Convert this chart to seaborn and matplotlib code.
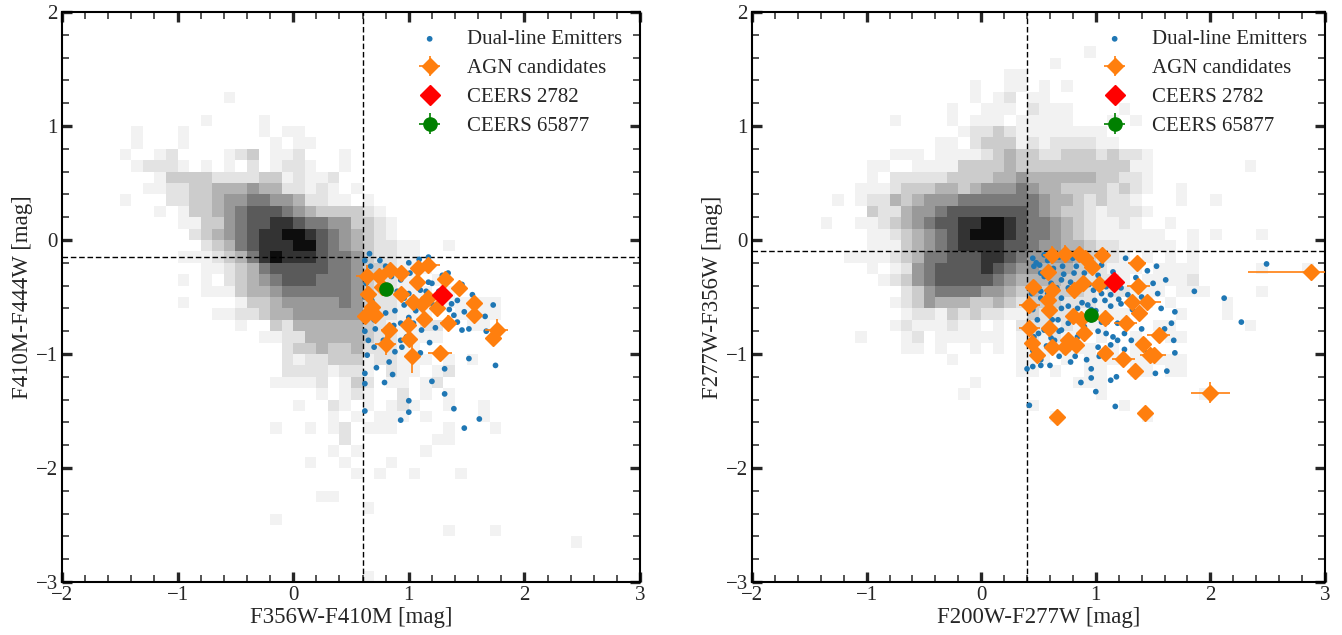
import numpy as np
import pandas as pd
import matplotlib
matplotlib.use("Agg")
import matplotlib.pyplot as plt
from matplotlib.colors import ListedColormap
from matplotlib.ticker import MultipleLocator
import seaborn as sns

# ---------------------------------------------------------------------------
# Background field population: 0.1 mag cells, grey level 1 (faint) .. 9 (dense).
# Rows run from y = 2.0 (top) down to y = -3.0; columns from x = -2.0 to 3.0.
# ---------------------------------------------------------------------------
grey_levels = ["#f2f2f2", "#e3e3e3", "#cccccc", "#b3b3b3", "#999999",
               "#7a7a7a", "#5a5a5a", "#333333", "#0d0d0d"]

density_left = [
    ".......... .......... .......... .......... ..........",  # 2.0
    ".......... .......... .......... .......... ..........",
    ".......... .......... .......... .......... ..........",
    ".......... .......... .......... .......... ..........",
    ".......... .......... .......... .......... ..........",
    ".......... .......... .......... .......... ..........",  # 1.5
    ".......... .......... .......... .......... ..........",
    ".......... ....1..... .......... .......... ..........",
    ".......... .......... .......... .......... ..........",
    ".......... ..1....1.. .......... .......... ..........",
    "......1... 1......1.1 1......... .......... ..........",  # 1.0
    "......1... 1.......1. 11........ .......... ..........",
    ".....1..12 ....123.11 2...1..... .......... ..........",
    "......1222 1.1.1.2.12 21..1..... .......... ..........",
    "........13 3332222331 2112...... .......... ..........",
    ".......112 2334445442 2121.1.... .......... ..........",  # 0.5
    ".....1...2 2334556655 42211.1... .......... ..........",
    "........1. 1334567776 54333321.. .......... ..........",
    ".......... 1133567788 766553321. .......... ..........",
    ".......... .234567889 987654321. .......... ..........",
    ".......... ..23467888 9976543221 1..1...... ..........",  # 0.0
    ".......... 1112346898 8876653221 1......... ..........",
    ".......... ..11234677 7776653321 11........ ..........",
    ".......... 1.1.234567 7766653221 1.1....... ..........",
    ".......... ..11134456 6666653221 11.1...... ..........",
    ".......... 1....13345 5555653221 1..11111.. ..........",  # -0.5
    ".......... ...1122344 5555553221 11..1111.. ..........",
    ".......... .....1..32 4444443211 122..11... ..........",
    ".......... .......112 2444443221 111....... ..........",
    ".......... .........2 3343342221 1......... ..........",
    ".......... .........2 1223331221 11.1.1.... ..........",  # -1.0
    ".......... .........2 2221221.21 1.12...... ..........",
    ".......... ........11 112.132.11 .12....... ..........",
    ".......... .......... ..1.121..2 .1.1...... ..........",
    ".......... .......... 1..21.1.12 1..1..1... ..........",
    ".......... .......... ...1.1.111 .1....1... ..........",  # -1.5
    ".......... ........1. .1.12.111. ...1...1.. ..........",
    ".......... .......... ....2..... ..11...... ..........",
    ".......... .......... ...1.1.... .1........ ..........",
    ".......... .......... .1..1...1. .......... ..........",
    ".......... .......... .....1.1.. 1...1..... ..........",  # -2.0
    ".......... .......... .......... .......... ..........",
    ".......... .......... ..11...... .......... ..........",
    ".......... .......... ......1... .......... ..........",
    ".......... ........1. .......... .......... ..........",
    ".......... .......... .......... ...1...1.. ..........",  # -2.5
    ".......... .......... .......... .......... ....1.....",
    ".......... .......... .......... .......... ..........",
    ".......... .......... .......... .......... ..........",
    ".......... .......... ......1... .......... ..........",
]

density_right = [
    ".......... .......... .......... .......... ..........",  # 2.0
    ".......... .......... .......... .......... ..........",
    ".......... .......... .......... .......... ..........",
    ".......... .......... .........1 .......... ..........",
    ".......... .......... ......1... .......... ..........",
    ".......... .......... ..11...... .......... ..........",  # 1.5
    ".......... .........1 ..11.1.1.. .......... ..........",
    ".......... .........1 .12.11.... .......... ..........",
    ".......... .......1.. 111.2111.. ..1....... ..........",
    ".......... ..1....1.1 11.11111.. .1.1...... ..........",
    ".......... ........12 2321111111 1......... ..........",  # 1.0
    ".......... ......11.2 3331212222 11........ ..........",
    ".......... ..111.1111 2343322333 23221..... ..........",
    ".......... 11..111133 3343333333 33311..... ...1......",
    ".......... 1.22222333 3445444444 33221..... ..........",
    ".........1 1123334434 5556544333 32321..1.. ..........",  # 0.5
    ".......1.1 2243455566 6666654432 3221...1.. 1.........",
    ".......... 3224556777 7777654332 12221..... ..........",
    "......1..1 1234567788 9987665432 1121..1... ..........",
    ".......... 1123456789 9987665432 111111..1. 1...1.....",
    ".......... 1113456788 8877655443 2211111.1. ..........",  # 0.0
    "........11 1123466777 8876555543 221.1.1.1. ..........",
    ".......... 1.12567777 8765544433 2111.1111. ....1...1.",
    ".......... .123567777 7654444332 221.11112. ..........",
    ".......... ...2356666 5543433332 122111.111 ....1.....",
    ".......... ..12354443 3432333222 11.11.1... .1........",  # -0.5
    ".......... ...1221323 2211322211 111....1.. .1........",
    ".......... ..12111211 .1.2221211 1....11... ...1......",
    ".........1 ...12.1111 11.121211. 1..1..11.. ..........",
    ".......... ...11.1..1 .1.1111111 .1.1...... ..........",
    ".......... .......1.. ...111.1.1 11.11111.. ..........",  # -1.0
    ".......... .......... ...11.1..1 1..11.11.. ..........",
    ".......... .........1 ........11 1......... ..........",
    ".......... ........1. .......... 1........1 ..........",
    ".......... .......... ....1..... ..1....... ..........",
    ".......... .......... ......1... ....1..... ..........",  # -1.5
    ".......... .......... .......... .......... ..........",
    ".......... .......... .......... .......... ..........",
    ".......... .......... .......... .......... ..........",
    ".......... .......... .......... .......... ..........",
    ".......... .......... .......... .......... ..........",  # -2.0
    ".......... .......... .......... .......... ..........",
    ".......... .......... .......... .......... ..........",
    ".......... .......... .......... .......... ..........",
    ".......... .......... .......... .......... ..........",
    ".......... .......... .......... .......... ..........",  # -2.5
    ".......... .......... .......... .......... ..........",
    ".......... .......... .......... .......... ..........",
    ".......... .......... .......... .......... ..........",
    ".......... .......... .......... .......... ..........",
]

# ---------------------------------------------------------------------------
# Dual-line emitters
# ---------------------------------------------------------------------------
dle_left_x = [0.62, 0.67, 0.80, 1.00, 1.09, 1.17, 1.01, 0.85, 0.93, 1.04, 1.17, 1.20,
              1.29, 1.34, 1.42, 1.46, 1.21, 1.10, 0.96, 0.96, 0.88, 0.80, 0.72, 0.71,
              0.65, 0.70, 0.64, 0.83, 0.88, 0.94, 1.10, 1.23, 1.42, 1.46, 1.39, 1.37,
              1.48, 1.66, 1.73, 1.67, 1.75, 1.52, 1.31, 1.20, 1.00, 0.93, 1.00, 0.79,
              0.62, 0.62, 0.62, 1.31, 1.39, 1.48, 1.61, 1.52, 0.70, 0.77, 0.83, 0.68,
              0.74, 0.63, 0.62, 0.70, 1.00, 1.10, 1.15, 1.25, 1.35, 1.00, 1.11, 0.93,
              0.87, 1.11, 0.98, 0.78, 0.93, 1.04, 1.17, 0.62, 0.63, 0.66, 0.75, 0.90,
              1.06, 1.26, 1.55, 0.72, 0.86, 1.18]
dle_left_y = [-0.18, -0.23, -0.23, -0.20, -0.17, -0.15, -0.29, -0.32, -0.35, -0.37, -0.37, -0.38,
              -0.31, -0.29, -0.53, -0.39, -0.57, -0.58, -0.51, -0.57, -0.62, -0.64, -0.63, -0.78,
              -0.88, -0.94, -1.01, -1.07, -0.98, -0.94, -0.99, -0.77, -0.72, -0.79, -0.66, -0.56,
              -0.63, -0.67, -0.57, -0.80, -1.10, -1.04, -1.13, -1.24, -1.41, -1.58, -1.51, -1.25,
              -1.26, -1.17, -1.50, -1.35, -1.48, -1.65, -1.57, -0.78, -0.70, -0.45, -0.41, -0.53,
              -0.29, -0.38, -0.50, -0.58, -0.47, -0.44, -0.45, -0.58, -0.61, -0.68, -0.70, -0.73,
              -0.75, -0.79, -0.85, -0.88, -0.88, -0.73, -0.70, -0.80, -0.65, -0.12, -0.18, -0.45,
              -0.62, -0.45, -0.48, -1.12, -1.18, -0.90]

dle_right_x = [0.45, 0.46, 0.51, 0.58, 0.68, 0.80, 0.90, 1.05, 1.26, 1.45, 1.53, 1.61,
               1.86, 1.69, 1.66, 1.68, 1.69, 1.62, 1.52, 1.34, 1.18, 1.13, 1.25, 1.19,
               1.31, 1.42, 1.45, 1.09, 1.13, 1.02, 1.03, 0.96, 0.96, 0.87, 1.00, 0.78,
               0.73, 0.64, 0.68, 0.52, 0.45, 0.40, 0.42, 1.17, 1.20, 1.13, 1.08, 0.99,
               0.84, 0.76, 0.90, 0.81, 0.70, 0.61, 0.52, 0.46, 0.44, 0.52, 0.61, 0.70,
               0.76, 0.84, 0.93, 0.87, 0.76, 0.67, 0.58, 0.49, 0.55, 0.70, 0.84, 0.96,
               1.05, 1.10, 1.08, 0.90, 0.64, 0.76, 0.46, 0.41, 0.45, 0.83, 0.71, 1.02,
               0.94, 1.09, 1.13, 1.19, 1.29, 1.40, 1.50, 1.32, 1.22, 0.55, 0.58, 0.78,
               0.96, 1.02, 0.84, 0.90, 0.61, 2.49, 1.54, 2.12, 2.27,
               0.48, 0.55, 0.63, 0.72, 0.78, 0.66, 0.52, 0.70, 0.62, 0.50, 0.57, 0.68,
               0.82, 0.92, 1.00, 1.05, 0.98, 0.88, 1.15, 1.22, 1.28, 1.35, 1.40, 1.57,
               1.60, 1.25, 1.15, 0.45, 0.52, 0.60]
dle_right_y = [-0.16, -0.23, -0.22, -0.18, -0.15, -0.16, -0.13, -0.22, -0.16, -0.27, -0.23, -0.35,
               -0.45, -0.63, -0.73, -0.88, -0.99, -1.15, -1.17, -1.14, -1.20, -1.23, -0.96, -0.88,
               -0.88, -0.88, -0.99, -0.82, -0.92, -0.94, -1.02, -1.13, -1.21, -1.25, -1.33, -1.07,
               -0.98, -0.88, -0.80, -1.10, -1.11, -1.13, -1.45, -1.46, -0.52, -0.58, -0.53, -0.53,
               -0.45, -0.42, -0.29, -0.29, -0.35, -0.38, -0.29, -0.38, -0.47, -0.51, -0.54, -0.51,
               -0.58, -0.60, -0.57, -0.70, -0.73, -0.70, -0.64, -0.70, -0.79, -0.79, -0.85, -0.70,
               -0.72, -0.72, -0.66, -0.76, -0.96, -0.96, -0.85, -0.76, -0.61, -0.23, -0.23, -0.31,
               -0.39, -0.41, -0.48, -0.73, -0.72, -0.50, -0.38, -0.61, -0.56, -0.32, -0.47, -0.66,
               -0.61, -0.80, -0.91, -0.85, -0.86, -0.21, -0.47, -0.51, -0.72,
               -0.20, -0.13, -0.25, -0.30, -0.37, -0.42, -0.45, -0.60, -0.70, -0.82, -0.93, -1.02,
               -1.02, -1.05, -0.62, -0.47, -0.44, -0.55, -0.28, -0.42, -0.48, -0.33, -0.78, -0.60,
               -0.78, -0.82, -0.85, -0.97, -1.05, -1.10]

# ---------------------------------------------------------------------------
# AGN candidates with their colour uncertainties
# ---------------------------------------------------------------------------
agn_left_x = [1.08, 1.17, 1.31, 1.43, 1.56, 1.56, 1.76, 1.73, 1.34, 1.27, 1.03, 1.00, 0.99,
              0.83, 0.80, 1.13, 1.24, 1.11, 1.07, 1.04, 0.93, 0.84, 0.74, 0.64, 0.65, 0.68,
              0.62, 0.93, 1.17, 0.77, 0.71]
agn_left_y = [-0.25, -0.22, -0.34, -0.42, -0.55, -0.66, -0.79, -0.86, -0.73, -0.99, -1.02, -0.87,
              -0.75, -0.79, -0.91, -0.69, -0.60, -0.56, -0.37, -0.54, -0.29, -0.26, -0.32, -0.32,
              -0.47, -0.59, -0.67, -0.47, -0.51, -0.41, -0.66]
agn_left_xerr = [0.04, 0.10, 0.03, 0.04, 0.03, 0.03, 0.10, 0.04, 0.07, 0.10, 0.05, 0.04, 0.05,
                 0.07, 0.09, 0.05, 0.06, 0.04, 0.05, 0.05, 0.04, 0.05, 0.06, 0.10, 0.06, 0.05,
                 0.04, 0.05, 0.04, 0.05, 0.06]
agn_left_yerr = [0.05, 0.04, 0.03, 0.03, 0.03, 0.03, 0.10, 0.07, 0.07, 0.06, 0.15, 0.06, 0.06,
                 0.05, 0.10, 0.05, 0.04, 0.05, 0.04, 0.05, 0.05, 0.05, 0.06, 0.10, 0.06, 0.06,
                 0.05, 0.05, 0.05, 0.04, 0.06]

agn_right_x = [0.62, 0.73, 0.85, 0.91, 1.05, 0.97, 1.36, 0.58, 0.45, 0.62, 0.81, 0.89, 1.03,
               1.37, 1.32, 1.45, 1.38, 0.42, 0.59, 0.80, 0.87, 1.08, 1.26, 0.90, 0.42, 0.59,
               1.55, 1.41, 0.44, 0.49, 0.62, 0.73, 0.83, 0.76, 1.08, 1.24, 1.47, 1.51, 1.34,
               0.66, 1.43, 0.58, 2.88, 2.00]
agn_right_y = [-0.13, -0.12, -0.12, -0.16, -0.13, -0.24, -0.20, -0.28, -0.41, -0.44, -0.44, -0.38,
               -0.39, -0.40, -0.54, -0.54, -0.64, -0.57, -0.61, -0.67, -0.69, -0.68, -0.73, -0.82,
               -0.77, -0.77, -0.83, -0.91, -0.90, -1.01, -0.94, -0.94, -0.92, -0.88, -0.99, -1.04,
               -1.01, -1.01, -1.15, -1.55, -1.52, -0.53, -0.28, -1.34]
agn_right_xerr = [0.08, 0.05, 0.05, 0.05, 0.05, 0.05, 0.08, 0.05, 0.05, 0.05, 0.05, 0.05, 0.05,
                  0.10, 0.05, 0.12, 0.05, 0.09, 0.05, 0.05, 0.05, 0.05, 0.10, 0.05, 0.09, 0.05,
                  0.10, 0.05, 0.05, 0.05, 0.05, 0.05, 0.05, 0.05, 0.05, 0.10, 0.08, 0.10, 0.05,
                  0.05, 0.05, 0.05, 0.55, 0.17]
agn_right_yerr = [0.08, 0.08, 0.05, 0.05, 0.05, 0.05, 0.05, 0.05, 0.05, 0.05, 0.05, 0.05, 0.05,
                  0.05, 0.05, 0.05, 0.05, 0.08, 0.05, 0.05, 0.05, 0.05, 0.05, 0.05, 0.05, 0.05,
                  0.05, 0.05, 0.05, 0.05, 0.05, 0.05, 0.05, 0.05, 0.05, 0.05, 0.05, 0.05, 0.05,
                  0.05, 0.05, 0.05, 0.05, 0.09]

# Individual sources: (x, y) in each colour plane
ceers2782_left = (1.29, -0.48)
ceers2782_right = (1.16, -0.37)
ceers65877_left = (0.80, -0.43)
ceers65877_right = (0.96, -0.66)
ceers65877_err = (0.03, 0.03)

# Selection thresholds
cut_left = (0.6, -0.15)
cut_right = (0.4, -0.1)

axis_labels_left = ("F356W-F410M [mag]", "F410M-F444W [mag]")
axis_labels_right = ("F200W-F277W [mag]", "F277W-F356W [mag]")
legend_labels = ["Dual-line Emitters", "AGN candidates", "CEERS 2782", "CEERS 65877"]

ORANGE = "#ff7f0e"
BLUE = "#1f77b4"

sns.set_style("ticks")
plt.rcParams["font.family"] = ["Liberation Serif", "DejaVu Serif"]
plt.rcParams["axes.unicode_minus"] = True


def grid_to_frame(rows):
    recs = []
    for r, row in enumerate(rows):
        row = row.replace(" ", "")
        yc = 2.0 - 0.1 * r - 0.05
        for c, ch in enumerate(row):
            if ch != ".":
                recs.append((-2.0 + 0.1 * c + 0.05, yc, int(ch)))
    return pd.DataFrame(recs, columns=["x", "y", "level"])


def draw_panel(ax, rows, dle_x, dle_y, ax_x, ax_y, axe, aye, c2782, c65877, cut, labels):
    dens = grid_to_frame(rows)
    sns.histplot(data=dens, x="x", y="y", weights="level", binwidth=0.1,
                 binrange=((-2, 3), (-3, 2)), cmap=ListedColormap(grey_levels),
                 vmin=0.5, vmax=9.5, ax=ax, zorder=0)

    ax.axvline(cut[0], color="black", lw=1.0, ls=(0, (4, 2)), zorder=1)
    ax.axhline(cut[1], color="black", lw=1.0, ls=(0, (4, 2)), zorder=1)

    dle = pd.DataFrame({"x": dle_x, "y": dle_y})
    sns.scatterplot(data=dle, x="x", y="y", s=17, color=BLUE, edgecolor="none",
                    ax=ax, zorder=3, label=legend_labels[0], legend=False)
    dots = ax.collections[-1]

    agn = ax.errorbar(ax_x, ax_y, xerr=axe, yerr=aye, fmt="D", color=ORANGE, ms=8,
                      mec=ORANGE, elinewidth=1.2, capsize=0, zorder=4,
                      label=legend_labels[1])
    red, = ax.plot([c2782[0]], [c2782[1]], "D", color="red", ms=10.5, zorder=5,
                   linestyle="none", label=legend_labels[2])
    grn = ax.errorbar([c65877[0]], [c65877[1]], xerr=[ceers65877_err[0]],
                      yerr=[ceers65877_err[1]], fmt="o", color="green", ms=9.5,
                      elinewidth=1.2, capsize=0, zorder=5, label=legend_labels[3])

    ax.legend(handles=[dots, agn, red, grn], labels=legend_labels,
              loc="upper right", frameon=False, fontsize=15, labelspacing=0.45,
              handletextpad=0.8, borderaxespad=0.45)

    ax.set_xlim(-2, 3)
    ax.set_ylim(-3, 2)
    ax.set_xlabel(labels[0], fontsize=16.5, labelpad=1)
    ax.set_ylabel(labels[1], fontsize=16.5, labelpad=2)
    ax.xaxis.set_major_locator(MultipleLocator(1))
    ax.yaxis.set_major_locator(MultipleLocator(1))
    ax.xaxis.set_minor_locator(MultipleLocator(0.2))
    ax.yaxis.set_minor_locator(MultipleLocator(0.2))
    ax.tick_params(which="major", direction="in", length=7, width=2.4,
                   top=True, right=True, labelsize=15, pad=3)
    ax.tick_params(which="minor", direction="in", length=5, width=1.1,
                   top=True, right=True)
    for sp in ax.spines.values():
        sp.set_linewidth(1.5)
        sp.set_color("black")


fig = plt.figure(figsize=(13.42, 6.35), dpi=100)
ax_l = fig.add_axes([62 / 1342, 1 - 582 / 635, 578 / 1342, 570 / 635])
ax_r = fig.add_axes([752 / 1342, 1 - 582 / 635, 573 / 1342, 570 / 635])

draw_panel(ax_l, density_left, dle_left_x, dle_left_y, agn_left_x, agn_left_y,
           agn_left_xerr, agn_left_yerr, ceers2782_left, ceers65877_left, cut_left,
           axis_labels_left)
draw_panel(ax_r, density_right, dle_right_x, dle_right_y, agn_right_x, agn_right_y,
           agn_right_xerr, agn_right_yerr, ceers2782_right, ceers65877_right, cut_right,
           axis_labels_right)

fig.savefig("out.png", dpi=100)
